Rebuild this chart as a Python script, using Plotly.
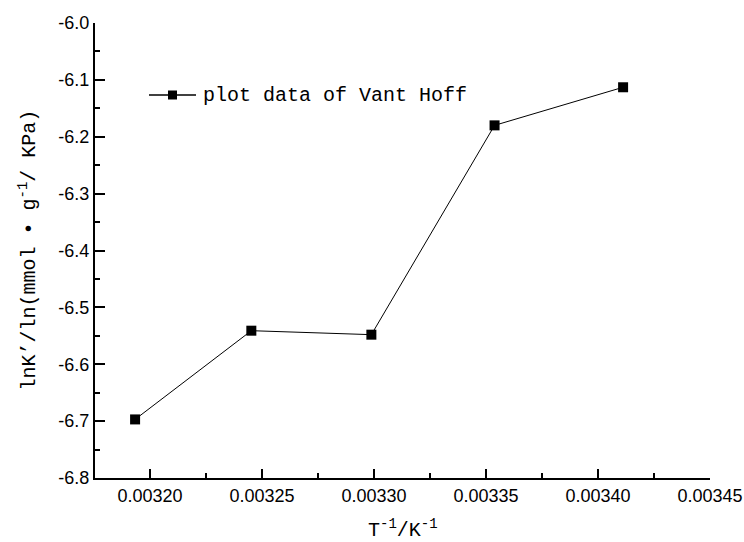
import plotly.graph_objects as go

# Van't Hoff data: reciprocal temperature vs ln K'
inv_T = [0.0031933, 0.0032452, 0.0032988, 0.0033538, 0.0034112]
ln_K = [-6.697, -6.541, -6.548, -6.180, -6.113]

series_name = "plot data of Vant Hoff"
x_title = "T<sup>-1</sup>/K<sup>-1</sup>"
y_title = "lnK’/ln(mmol • g<sup>-1</sup>/ KPa)"
x_ticks = [0.00320, 0.00325, 0.00330, 0.00335, 0.00340, 0.00345]
y_ticks = [-6.8, -6.7, -6.6, -6.5, -6.4, -6.3, -6.2, -6.1, -6.0]

mono = "Liberation Mono, DejaVu Sans Mono, monospace"
sans = "Liberation Sans, Arial, sans-serif"

W, H = 744, 542
ML, MR, MT, MB = 95, 34, 23, 64
PW, PH = W - ML - MR, H - MT - MB


def px_x(p):
    return (p - ML) / PW


def px_y(p):
    return 1 - (p - MT) / PH


fig = go.Figure()
fig.add_trace(go.Scatter(
    x=inv_T, y=ln_K, mode="lines+markers", name=series_name,
    line=dict(color="black", width=1),
    marker=dict(symbol="square", size=10, color="black"),
    showlegend=False,
))

# Legend key: a line with a square in its middle, followed by the series label
ly = px_y(95)
legend_shapes = [
    dict(type="line", xref="paper", yref="paper", x0=px_x(149), x1=px_x(196), y0=ly, y1=ly,
         line=dict(color="black", width=1.5)),
    dict(type="rect", xref="paper", yref="paper", x0=px_x(168), x1=px_x(177),
         y0=px_y(99.5), y1=px_y(90.5), fillcolor="black", line=dict(width=0)),
]

title_font = dict(family=mono, size=20, color="black")

fig.update_layout(
    width=W, height=H,
    margin=dict(l=ML, r=MR, t=MT, b=MB),
    paper_bgcolor="white", plot_bgcolor="white",
    showlegend=False,
    shapes=legend_shapes,
    annotations=[
        dict(text=series_name, xref="paper", yref="paper", x=px_x(201), y=ly,
             xanchor="left", yanchor="middle", showarrow=False, font=title_font),
        dict(text=x_title, xref="paper", yref="paper", x=0.5, y=px_y(529),
             xanchor="center", yanchor="middle", showarrow=False, font=title_font),
        dict(text=y_title, xref="paper", yref="paper", x=px_x(27), y=0.5, textangle=-90,
             xanchor="center", yanchor="middle", showarrow=False, font=title_font),
    ],
)

fig.update_xaxes(
    range=[0.0031754, 0.00345], automargin=False,
    tickvals=x_ticks, ticktext=[f"{v:.5f}" for v in x_ticks],
    ticks="inside", ticklen=9, tickwidth=2, tickcolor="black",
    minor=dict(ticks="inside", ticklen=5, tickwidth=2, tickcolor="black", dtick=0.000025),
    showline=True, linecolor="black", linewidth=2, mirror=False,
    showgrid=False, zeroline=False,
    tickfont=dict(family=sans, size=18, color="black"),
)
fig.update_yaxes(
    range=[-6.8, -6.0], automargin=False,
    tickvals=y_ticks, ticktext=[f"{v:.1f}" for v in y_ticks],
    ticks="inside", ticklen=10, tickwidth=2, tickcolor="black",
    minor=dict(ticks="inside", ticklen=5, tickwidth=2, tickcolor="black", dtick=0.05),
    showline=True, linecolor="black", linewidth=2, mirror=False,
    showgrid=False, zeroline=False,
    tickfont=dict(family=sans, size=18, color="black"),
)

fig.write_html("out.html")
